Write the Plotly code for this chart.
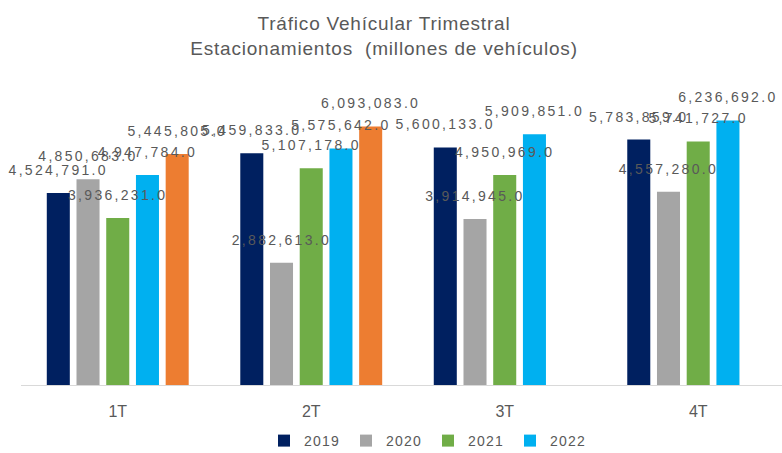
import plotly.graph_objects as go

quarters = ["1T", "2T", "3T", "4T"]
v2019 = [4524791, 5459833, 5600133, 5783859]
v2020 = [4850683, 2882613, 3914945, 4557280]
v2021 = [3936231, 5107178, 4950969, 5741727]
v2022 = [4947784, 5575642, 5909851, 6236692]
v2023 = [5445805, 6093083, None, None]

series = [
    ("2019", v2019, "#002060", True),
    ("2020", v2020, "#A5A5A5", True),
    ("2021", v2021, "#70AD47", True),
    ("2022", v2022, "#00B0F0", True),
    ("2023", v2023, "#ED7D31", False),
]

GREY = "#595959"
FONT = "Liberation Sans, Arial, sans-serif"

fig = go.Figure()
# coloured bars
for name, vals, color, show in series:
    fig.add_trace(go.Bar(
        x=quarters, y=vals, name=name, marker_color=color, marker_line_width=0,
        showlegend=show, offsetgroup=name, hoverinfo="x+y+name",
    ))
# value labels drawn on top of every bar (transparent twins in the same slot)
for name, vals, color, show in series:
    fig.add_trace(go.Bar(
        x=quarters, y=vals, name=name + " label", offsetgroup=name,
        marker_color="rgba(0,0,0,0)", marker_line_width=0, showlegend=False,
        hoverinfo="skip",
        texttemplate="<span style='font-size:14px'>%{y:,.1f}</span><br> ",
        textposition="outside",
        textfont=dict(family=FONT, size=10, color=GREY),
        constraintext="none", cliponaxis=False,
    ))

fig.update_layout(
    width=782, height=453,
    margin=dict(l=21, r=0, t=88, b=68),
    paper_bgcolor="white", plot_bgcolor="white",
    barmode="group", bargap=0.232, bargroupgap=0.225,
    font=dict(family=FONT, color=GREY),
    title=dict(
        text="Tráfico Vehícular Trimestral<br>Estacionamientos \u00a0(millones de vehículos)",
        x=384 / 782, xanchor="center", xref="container",
        y=1 - 30 / 453, yanchor="top", yref="container",
        font=dict(family=FONT, size=19, color=GREY),
    ),
    xaxis=dict(
        range=[-0.5, 3.433], showline=True, linecolor="#D9D9D9", linewidth=1,
        ticks="", showgrid=False, ticklabelstandoff=12,
        tickfont=dict(family=FONT, size=16, color=GREY),
    ),
    yaxis=dict(range=[0, 7e6], visible=False, showgrid=False),
    legend=dict(
        orientation="h", xref="container", yref="container",
        x=264 / 782, xanchor="left", y=12 / 453, yanchor="middle",
        font=dict(family=FONT, size=14, color=GREY),
        itemwidth=30, entrywidth=37, traceorder="normal",
    ),
)

post = """
document.body.style.margin='0';
var s=document.createElement('style');
s.textContent='.gtitle{letter-spacing:0.8px} .bartext{letter-spacing:2.3px} .legendtext{letter-spacing:1.2px}';
document.head.appendChild(s);
"""

fig.write_html("out.html", post_script=post, config={"displayModeBar": False})
